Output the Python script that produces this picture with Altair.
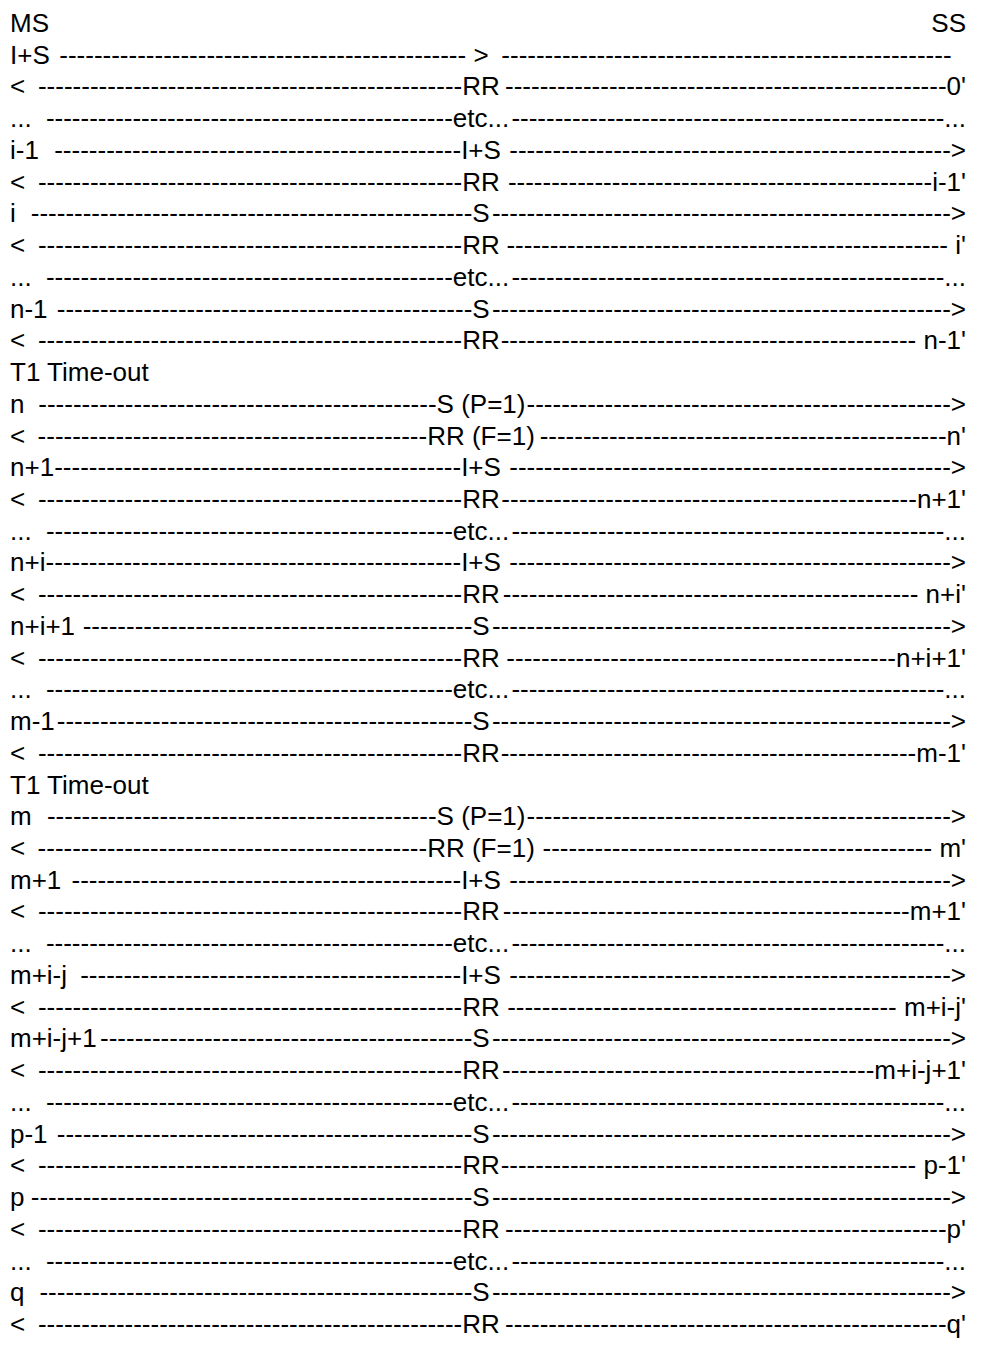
import math
import altair as alt
import pandas as pd

# ---- content of the diagram, one entry per printed line ----
left_labels = [
    "MS", "I+S ", "< ", "... ", "i-1 ", "< ", "i ", "< ", "... ", "n-1 ", "< ",
    "T1 Time-out", "n ", "< ", "n+1", "< ", "... ", "n+i", "< ", "n+i+1 ", "< ",
    "... ", "m-1", "< ", "T1 Time-out", "m ", "< ", "m+1 ", "< ", "... ",
    "m+i-j ", "< ", "m+i-j+1", "< ", "... ", "p-1 ", "< ", "p", "< ", "... ",
    "q ", "< ",
]
center_labels = [
    "", " > ", "RR", "etc...", "I+S", "RR", "S", "RR", "etc...", "S", "RR",
    "", "S (P=1)", "RR (F=1)", "I+S", "RR", "etc...", "I+S", "RR", "S", "RR",
    "etc...", "S", "RR", "", "S (P=1)", "RR (F=1)", "I+S", "RR", "etc...",
    "I+S", "RR", "S", "RR", "etc...", "S", "RR", "S", "RR", "etc...",
    "S", "RR",
]
right_labels = [
    "SS", "  ", "0'", "...", ">", "i-1'", ">", " i'", "...", ">", " n-1'",
    "", ">", "n'", ">", "n+1'", "...", ">", " n+i'", ">", "n+i+1'",
    "...", ">", "m-1'", "", ">", " m'", ">", "m+1'", "...",
    ">", " m+i-j'", ">", "m+i-j+1'", "...", ">", " p-1'", ">", "p'", "...",
    ">", "q'",
]

# ---- layout (style, not data) ----
FS = 26
FONT = "Liberation Sans"
X_LEFT, X_CENTER, X_RIGHT = 10, 481, 966

# Arial / Liberation Sans advance widths (1/1000 em)
ADV = {" ": 278, "'": 191, "(": 333, ")": 333, "+": 584, "-": 333, ".": 278,
       "<": 584, "=": 584, ">": 584, "F": 611, "I": 278, "M": 833, "P": 667,
       "R": 722, "S": 667, "T": 611, "c": 500, "e": 556, "i": 222, "j": 222,
       "m": 833, "n": 556, "o": 556, "p": 556, "q": 556, "t": 278, "u": 556}


def width(s):
    return sum(ADV.get(ch, 556) for ch in s) * FS / 1000.0


DASH = width("-")

rows = []
for i, (l, c, r) in enumerate(zip(left_labels, center_labels, right_labels)):
    rows.append({"row": i, "text": l, "x": X_LEFT, "anchor": "left"})
    if c:
        rows.append({"row": i, "text": c, "x": X_CENTER, "anchor": "center"})
        # leader dashes between left label and centre label
        a = X_LEFT + width(l)
        b = X_CENTER - width(c) / 2
        n1 = max(0, math.floor((b - a) / DASH))
        rows.append({"row": i, "text": "-" * n1, "x": b, "anchor": "right"})
        # leader dashes between centre label and right label
        c2 = X_CENTER + width(c) / 2
        d = X_RIGHT - width(r)
        n2 = max(0, math.floor((d - c2) / DASH))
        rows.append({"row": i, "text": "-" * n2, "x": d, "anchor": "right"})
    if r.strip():
        rows.append({"row": i, "text": r, "x": X_RIGHT, "anchor": "right"})

df = pd.DataFrame(rows)

W, H = 983, 1331
N_ROWS = len(left_labels)
FIRST_BASELINE = 24   # inside the plot area
LAST_BASELINE = 1325  # inside the plot area
ROW_PX = (LAST_BASELINE - FIRST_BASELINE) / (N_ROWS - 1)
lo = -FIRST_BASELINE / ROW_PX
hi = lo + H / ROW_PX

base = alt.Chart(df).encode(
    x=alt.X("x:Q", scale=alt.Scale(domain=[8, 8 + W], nice=False, zero=False), axis=None),
    y=alt.Y("row:Q", scale=alt.Scale(domain=[lo, hi], nice=False, zero=False, reverse=True), axis=None),
    text="text:N",
)


def layer(anchor):
    return base.transform_filter(f"datum.anchor == '{anchor}'").mark_text(
        align=anchor, baseline="alphabetic", font=FONT, fontSize=FS, color="black"
    )


chart = alt.layer(layer("left"), layer("center"), layer("right")).properties(
    width=W, height=H, padding=0,
    autosize=alt.AutoSizeParams(type="none"),
).configure_view(strokeWidth=0)

chart.save("out.html", embed_options={"renderer": "svg", "actions": False})
